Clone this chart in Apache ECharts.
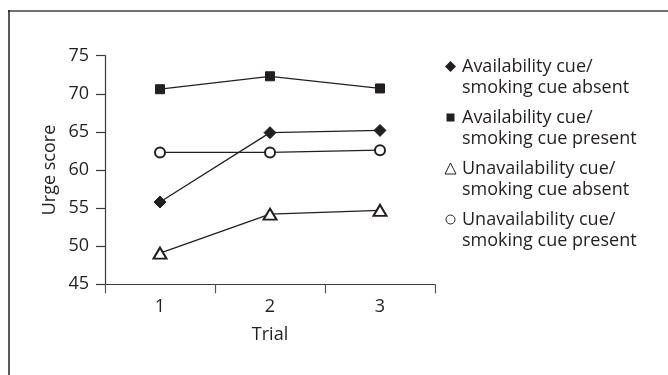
<!DOCTYPE html>
<html>
<head>
<meta charset="utf-8">
<style>html,body{margin:0;padding:0;background:#fff}#c{width:668px;height:375px}</style>
<script src="https://cdn.jsdelivr.net/npm/echarts@6/dist/echarts.min.js"></script>
</head>
<body>
<div id="c"></div>
<script>
const trials = ['1', '2', '3'];
const availAbsent = [55.8, 64.9, 65.2];
const availPresent = [70.6, 72.3, 70.7];
const unavailAbsent = [49.1, 54.2, 54.7];
const unavailPresent = [62.3, 62.3, 62.6];
const seriesNames = [
  'Availability cue/\nsmoking cue absent',
  'Availability cue/\nsmoking cue present',
  'Unavailability cue/\nsmoking cue absent',
  'Unavailability cue/\nsmoking cue present'
];
const yMin = 45, yMax = 75, yStep = 5;

const ink = '#231f20';
const font = 'Open Sans';
const fs = 18;
const chart = echarts.init(document.getElementById('c'));
function mk(name, data, symbol, size) {
  return {
    name, type: 'line', data, symbol, symbolSize: size,
    lineStyle: { color: ink, width: 1.3 },
    itemStyle: { color: ink, borderColor: ink, borderWidth: 1 },
    emphasis: { disabled: true }, animation: false, z: 3
  };
}
chart.setOption({
  animation: false,
  textStyle: { fontFamily: font, color: ink },
  grid: { left: 105, right: 233, top: 55.7, bottom: 90.7, containLabel: false },
  xAxis: {
    type: 'category', data: trials, boundaryGap: true,
    name: 'Trial', nameLocation: 'middle', nameGap: 42,
    nameTextStyle: { fontSize: fs, color: ink, fontFamily: font },
    axisLine: { lineStyle: { color: '#3a3a3a', width: 1.2 } },
    axisTick: { show: true, length: 9, lineStyle: { color: '#555', width: 1.2 } },
    axisLabel: { fontSize: fs, color: ink, margin: 14, fontFamily: font },
    splitLine: { show: false }
  },
  yAxis: {
    type: 'value', min: yMin, max: yMax, interval: yStep,
    name: 'Urge score', nameLocation: 'middle', nameGap: 46,
    nameTextStyle: { fontSize: fs, color: ink, fontFamily: font },
    axisLine: { show: true, lineStyle: { color: '#3a3a3a', width: 1.2 } },
    axisTick: { show: true, length: 9, lineStyle: { color: '#3a3a3a', width: 1.2 } },
    axisLabel: { fontSize: fs, color: ink, margin: 16, fontFamily: font },
    splitLine: { show: false }
  },
  legend: {
    orient: 'vertical', left: 439.5, top: 30,
    itemWidth: 11, itemHeight: 11, itemGap: -12,
    selectedMode: false,
    formatter: n => '\n' + n,
    textStyle: { fontSize: fs, lineHeight: 21, color: ink, fontFamily: font, padding: [0, 0, 0, 1] },
    data: [
      { name: seriesNames[0], icon: 'diamond', itemStyle: { color: ink, borderWidth: 0 } },
      { name: seriesNames[1], icon: 'path://M-1.5,-1.5M0,0H8V8H0ZM9.5,9.5', itemStyle: { color: ink, borderWidth: 0 } },
      { name: seriesNames[2], icon: 'triangle', itemStyle: { color: '#fff', borderColor: ink, borderWidth: 1 } },
      { name: seriesNames[3], icon: 'path://M-1,-1M0,4.5A4.5,4.5,0,1,1,9,4.5A4.5,4.5,0,1,1,0,4.5ZM10,10', itemStyle: { color: '#fff', borderColor: ink, borderWidth: 1 } }
    ]
  },
  graphic: [
    { type: 'line', shape: { x1: 8, y1: 11, x2: 668, y2: 11 }, style: { stroke: '#707070', lineWidth: 2 } },
    { type: 'line', shape: { x1: 9, y1: 10, x2: 9, y2: 375 }, style: { stroke: '#222', lineWidth: 1.5 } }
  ],
  series: [
    mk(seriesNames[0], availAbsent, 'diamond', 12),
    mk(seriesNames[1], availPresent, 'rect', 9),
    mk(seriesNames[2], unavailAbsent, 'emptyTriangle', [13, 11]),
    mk(seriesNames[3], unavailPresent, 'emptyCircle', 10)
  ]
});
</script>
</body>
</html>
